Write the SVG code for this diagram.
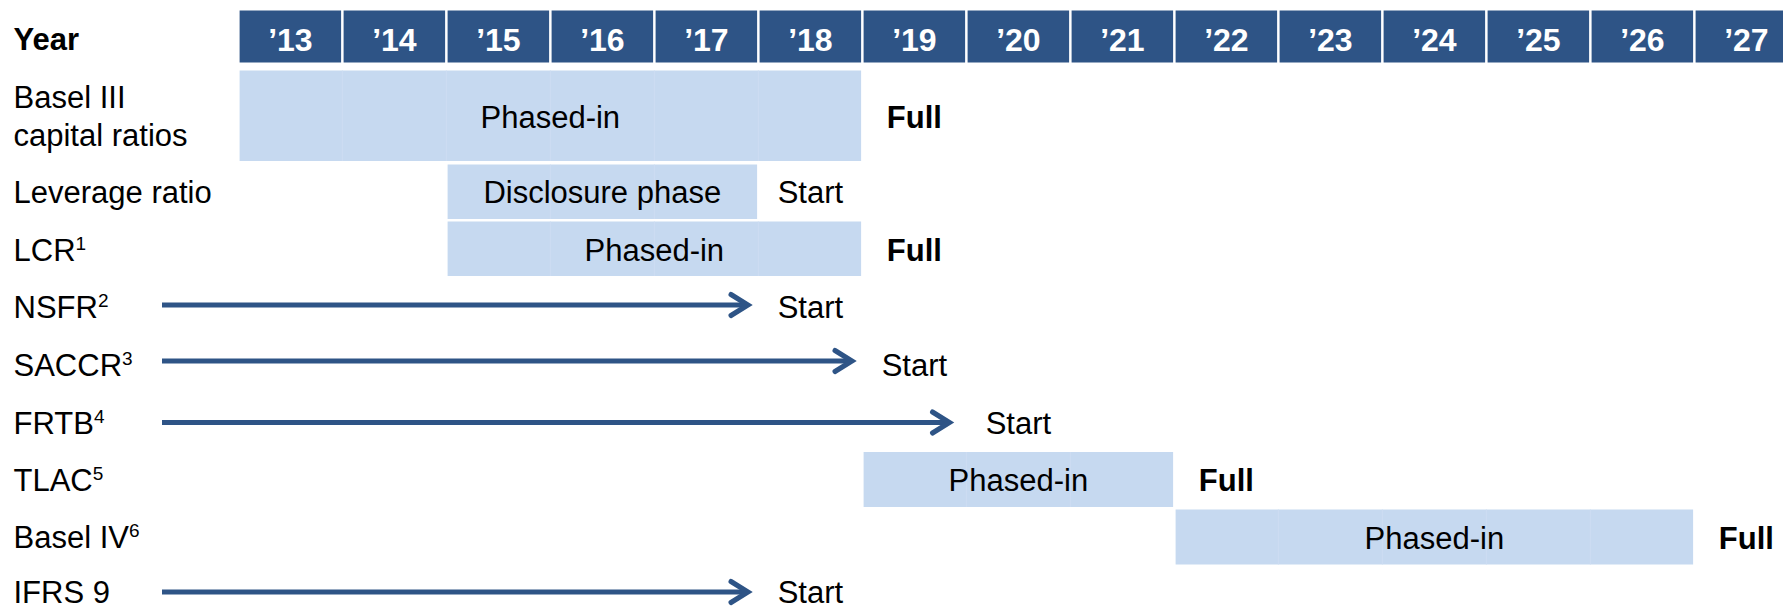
<svg xmlns="http://www.w3.org/2000/svg" width="1783" height="608" viewBox="0 0 1783 608">
<style>
.lbl{font-family:"Liberation Sans",Arial,sans-serif;font-size:31px;fill:#000}
.b{font-weight:bold}
.hdr{fill:#2E5486}
.hdt{font-family:"Liberation Sans",Arial,sans-serif;font-size:32px;font-weight:bold;fill:#fff;text-anchor:middle}
.bar{fill:#C6D9F0}
.sep{stroke:#CEDDF2;stroke-width:1}
.mid{text-anchor:middle}
.sup{font-size:19px}
.arr{stroke:#2E5486;stroke-width:5;fill:none}
.head{stroke:#2E5486;stroke-width:5;fill:none;stroke-linejoin:miter;stroke-linecap:round}
</style>
<rect width="1783" height="608" fill="#fff"/>
<g id="header">
<text class="lbl b" x="13.5" y="50">Year</text>
<rect class="hdr" x="239.6" y="10.5" width="101.5" height="52"/>
<rect class="hdr" x="343.6" y="10.5" width="101.5" height="52"/>
<rect class="hdr" x="447.6" y="10.5" width="101.5" height="52"/>
<rect class="hdr" x="551.6" y="10.5" width="101.5" height="52"/>
<rect class="hdr" x="655.6" y="10.5" width="101.5" height="52"/>
<rect class="hdr" x="759.6" y="10.5" width="101.5" height="52"/>
<rect class="hdr" x="863.6" y="10.5" width="101.5" height="52"/>
<rect class="hdr" x="967.6" y="10.5" width="101.5" height="52"/>
<rect class="hdr" x="1071.6" y="10.5" width="101.5" height="52"/>
<rect class="hdr" x="1175.6" y="10.5" width="101.5" height="52"/>
<rect class="hdr" x="1279.6" y="10.5" width="101.5" height="52"/>
<rect class="hdr" x="1383.6" y="10.5" width="101.5" height="52"/>
<rect class="hdr" x="1487.6" y="10.5" width="101.5" height="52"/>
<rect class="hdr" x="1591.6" y="10.5" width="101.5" height="52"/>
<rect class="hdr" x="1695.6" y="10.5" width="101.5" height="52"/>
<text class="hdt" x="290.4" y="50.5">’13</text>
<text class="hdt" x="394.4" y="50.5">’14</text>
<text class="hdt" x="498.4" y="50.5">’15</text>
<text class="hdt" x="602.4" y="50.5">’16</text>
<text class="hdt" x="706.4" y="50.5">’17</text>
<text class="hdt" x="810.4" y="50.5">’18</text>
<text class="hdt" x="914.4" y="50.5">’19</text>
<text class="hdt" x="1018.4" y="50.5">’20</text>
<text class="hdt" x="1122.4" y="50.5">’21</text>
<text class="hdt" x="1226.4" y="50.5">’22</text>
<text class="hdt" x="1330.4" y="50.5">’23</text>
<text class="hdt" x="1434.4" y="50.5">’24</text>
<text class="hdt" x="1538.4" y="50.5">’25</text>
<text class="hdt" x="1642.4" y="50.5">’26</text>
<text class="hdt" x="1746.4" y="50.5">’27</text>
</g>
<g id="basel3">
<text class="lbl" x="13.5" y="107.5">Basel III</text>
<text class="lbl" x="13.5" y="145.5">capital ratios</text>
<rect class="bar" x="239.6" y="70.5" width="621.5" height="90.5"/>
<path class="sep" d="M342.35 70.5V161M446.35 70.5V161M550.35 70.5V161M654.35 70.5V161M758.35 70.5V161"/>
<text class="lbl mid" x="550.3" y="127.5">Phased-in</text>
<text class="lbl b mid" x="914.4" y="127.5">Full</text>
</g>
<g id="leverage">
<text class="lbl" x="13.5" y="203">Leverage ratio</text>
<rect class="bar" x="447.6" y="164.5" width="309.5" height="54.5"/>
<path class="sep" d="M550.35 164.5V219M654.35 164.5V219"/>
<text class="lbl mid" x="602.3" y="203">Disclosure phase</text>
<text class="lbl mid" x="810.4" y="203">Start</text>
</g>
<g id="lcr">
<text class="lbl" x="13.5" y="261">LCR<tspan class="sup" dy="-11">1</tspan></text>
<rect class="bar" x="447.6" y="221.5" width="413.5" height="54.5"/>
<path class="sep" d="M550.35 221.5V276M654.35 221.5V276M758.35 221.5V276"/>
<text class="lbl mid" x="654.3" y="261">Phased-in</text>
<text class="lbl b mid" x="914.4" y="261">Full</text>
</g>
<g id="nsfr">
<text class="lbl" x="13.5" y="318">NSFR<tspan class="sup" dy="-11">2</tspan></text>
<text class="lbl mid" x="810.4" y="318">Start</text>
</g>
<g id="saccr">
<text class="lbl" x="13.5" y="375.5">SACCR<tspan class="sup" dy="-11">3</tspan></text>
<text class="lbl mid" x="914.4" y="375.5">Start</text>
</g>
<g id="frtb">
<text class="lbl" x="13.5" y="434">FRTB<tspan class="sup" dy="-11">4</tspan></text>
<text class="lbl mid" x="1018.4" y="434">Start</text>
</g>
<g id="tlac">
<text class="lbl" x="13.5" y="490.5">TLAC<tspan class="sup" dy="-11">5</tspan></text>
<rect class="bar" x="863.6" y="452" width="309.5" height="55"/>
<path class="sep" d="M966.35 452V507M1070.35 452V507"/>
<text class="lbl mid" x="1018.4" y="491">Phased-in</text>
<text class="lbl b mid" x="1226.4" y="491">Full</text>
</g>
<g id="basel4">
<text class="lbl" x="13.5" y="547.5">Basel IV<tspan class="sup" dy="-11">6</tspan></text>
<rect class="bar" x="1175.6" y="509.5" width="517.5" height="55"/>
<path class="sep" d="M1278.35 509.5V564.5M1382.35 509.5V564.5M1486.35 509.5V564.5M1590.35 509.5V564.5"/>
<text class="lbl mid" x="1434.4" y="548.5">Phased-in</text>
<text class="lbl b mid" x="1746.4" y="548.5">Full</text>
</g>
<g id="ifrs9">
<text class="lbl" x="13.5" y="603">IFRS 9</text>
<text class="lbl mid" x="810.4" y="603">Start</text>
</g>
<g id="connectors">
<line class="arr" x1="162" y1="305" x2="748" y2="305"/>
<polyline class="head" points="731,294.5 748,305 731,315.5"/>
<line class="arr" x1="162" y1="361" x2="852" y2="361"/>
<polyline class="head" points="835,350.5 852,361 835,371.5"/>
<line class="arr" x1="162" y1="422.5" x2="949.5" y2="422.5"/>
<polyline class="head" points="932.5,412 949.5,422.5 932.5,433"/>
<line class="arr" x1="162" y1="592" x2="748" y2="592"/>
<polyline class="head" points="731,581.5 748,592 731,602.5"/>
</g>
</svg>
